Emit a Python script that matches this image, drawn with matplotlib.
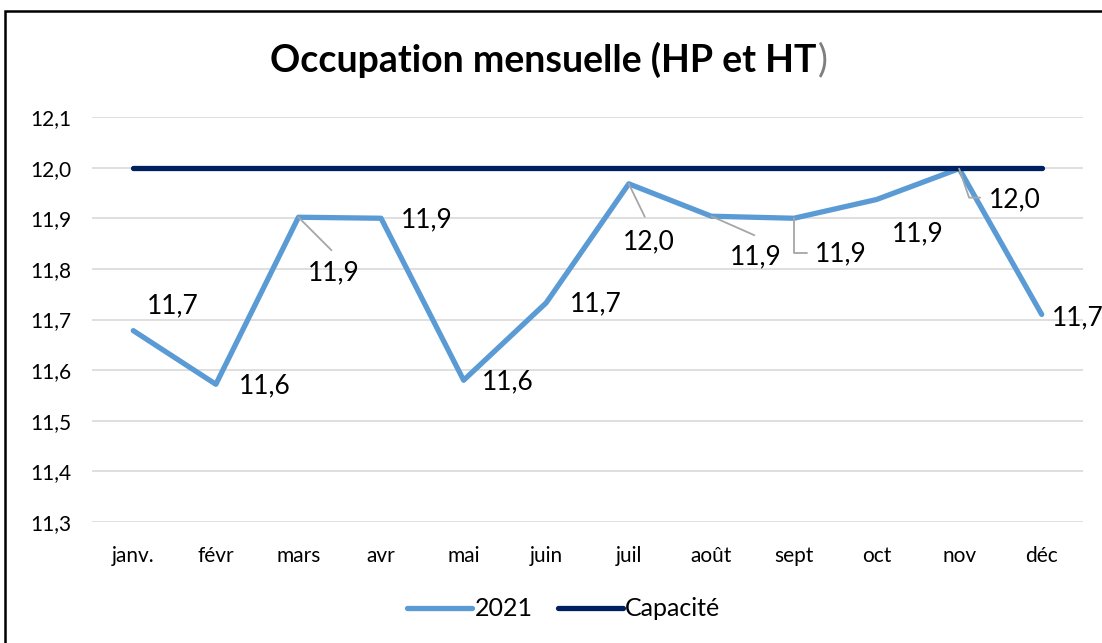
import matplotlib
matplotlib.use("Agg")
import matplotlib.pyplot as plt
from matplotlib.patches import Rectangle

months = ["janv.", "févr", "mars", "avr", "mai", "juin", "juil", "août", "sept", "oct", "nov", "déc"]
occupation_2021 = [11.678, 11.572, 11.902, 11.900, 11.580, 11.733, 11.968, 11.904, 11.900, 11.937, 11.998, 11.710]
capacite = [12.0] * 12
yticks = [11.3, 11.4, 11.5, 11.6, 11.7, 11.8, 11.9, 12.0, 12.1]

# label offsets in pixels (dx right, dy down) and leader-line ends
label_off = [(39, -25), (49, 2), (35, 56), (46, 2), (44, 2), (50, 1),
             (20, 58), (44, 41), (47, 36), (41, 34), (56, 31), (36, 3)]
leaders = {2: ((33, 33), None), 6: ((16, 33), None), 7: ((43, 19), None),
           8: ((13, 35), "angle,angleA=0,angleB=90,rad=0"),
           10: ((21, 29), "angle,angleA=0,angleB=109,rad=0")}

plt.rcParams['font.family'] = ['Lato', 'DejaVu Sans']
DPI = 100
fig = plt.figure(figsize=(1102 / DPI, 643 / DPI), dpi=DPI)
ax = fig.add_axes([92 / 1102, 1 - 522 / 643, (1083 - 92) / 1102, (522 - 117) / 643])

x = list(range(len(months)))
ax.plot(x, occupation_2021, color="#5B9BD5", lw=3.8, solid_capstyle="round", solid_joinstyle="round", label="2021", zorder=3)
ax.plot(x, capacite, color="#002060", lw=3.8, solid_capstyle="round", label="Capacité", zorder=4)

ax.set_xlim(-0.5, 11.5)
ax.set_ylim(11.3, 12.1)
ax.set_yticks(yticks)
ax.set_yticklabels([f"{v:.1f}".replace(".", ",") for v in yticks], fontsize=15)
ax.set_xticks(x)
ax.set_xticklabels(months, fontsize=15)
ax.tick_params(axis="both", length=0)
ax.tick_params(axis="x", pad=17)
ax.tick_params(axis="y", pad=15)
ax.grid(axis="y", color="#D9D9D9", lw=1.2)
ax.set_axisbelow(True)
for s in ax.spines.values():
    s.set_visible(False)

px = 72 / DPI
for i, v in enumerate(occupation_2021):
    dx, dy = label_off[i]
    ax.annotate(f"{v:.1f}".replace(".", ","), xy=(i, v), xytext=(dx * px, -dy * px),
                textcoords="offset points", ha="center", va="center", fontsize=19, color="black", zorder=6)
    if i in leaders:
        (lx, ly), cs = leaders[i]
        props = dict(arrowstyle="-", color="#A6A6A6", lw=1.3, shrinkA=0, shrinkB=0)
        if cs:
            props["connectionstyle"] = cs
        ax.annotate("", xy=(i, v), xytext=(lx * px, -ly * px), textcoords="offset points",
                    arrowprops=props, zorder=5)

t = fig.text(0.493, 1 - 60 / 643, "Occupation mensuelle (HP et HT", ha="center", va="center",
             fontsize=27, fontweight="bold")
fig.canvas.draw()
bb = t.get_window_extent(renderer=fig.canvas.get_renderer())
fig.text(bb.x1 / fig.bbox.width + 0.001, 1 - 60 / 643, ")", ha="left", va="center",
         fontsize=27, color="#7F7F7F")

leg = fig.legend(loc="center", bbox_to_anchor=(564 / 1102, 1 - 609 / 643), ncol=2, frameon=False,
                 fontsize=18, handlelength=2.6, handletextpad=0.1, columnspacing=1.0)

fig.add_artist(Rectangle((5 / 1102, -0.1), 1.2, 1.1 - 11 / 643, transform=fig.transFigure,
                         fill=False, edgecolor="black", lw=1.8, clip_on=False))

fig.savefig("out.png", dpi=DPI)
